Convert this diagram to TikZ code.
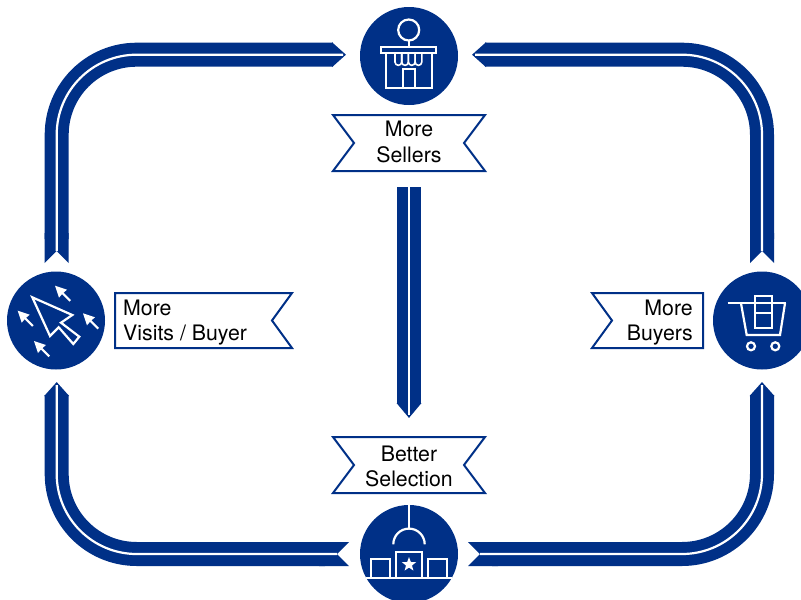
\documentclass[tikz,border=0pt]{standalone}
\usepackage{fontspec}
\setmainfont{TeX Gyre Heros}
\usetikzlibrary{arrows.meta,shapes.geometric}
\definecolor{navy}{HTML}{003087}
\tikzset{
	band/.style={draw=navy, line width=24pt, rounded corners=80pt},
	seam/.style={draw=white, line width=2.2pt, rounded corners=80pt},
	hub/.style={circle, fill=navy, minimum size=98pt, inner sep=0pt},
	flag/.style={draw=navy, line width=2pt, fill=white, line join=miter},
	icon/.style={draw=white, line width=2.2pt},
	caption/.style={font=\fontsize{21.3pt}{25.5pt}\selectfont, inner sep=0pt}
}
\begin{document}
\begin{tikzpicture}[x=1pt, y=-1pt]
			\newcommand{\trackArrow}[3]{
				% draws one curved arm of the ring
				% args:
				%     coordinate at the notched end
				%     corner coordinate
				%     coordinate at the tip
				\draw[band, {Triangle Cap[reversed, length=12pt]}-{Triangle[length=14pt, width=24pt]}] (#1) -- (#2) -- (#3);
				\draw[seam, shorten <=12pt, shorten >=3pt] (#1) -- (#2) -- (#3);
			}
			\newcommand{\leadPtr}[2]{
				% small white pointer around the cursor, args: tip x, tip y
				\fill[white] (#1, #2) -- ++(12, 4) -- ++(-3.5, 3) -- ++(7.5, 7.5) -- ++(-1.5, 1.5) -- ++(-7.5, -7.5) -- ++(-3, 3.5) -- cycle;
			}
			\clip (0, 0) rectangle (801, 600);
			%
			% hubs
			\node[hub] (store) at (409, 56) {};
			\node[hub] (cursor) at (56, 320.5) {};
			\node[hub] (cart) at (762, 320.5) {};
			\node[hub] (mall) at (409, 554) {};
			%
			% ends of the arms
			\coordinate (ltail) at (56.7, 263);
			\coordinate (lcorner) at (56.7, 54.7);
			\coordinate (ltip) at (346, 54.7);
			\coordinate (rtail) at (762, 263);
			\coordinate (rcorner) at (762, 54.7);
			\coordinate (rtip) at (472, 54.7);
			\coordinate (bltip) at (56.7, 382);
			\coordinate (blcorner) at (56.7, 554);
			\coordinate (bltail) at (349, 554);
			\coordinate (brtip) at (762, 382);
			\coordinate (brcorner) at (762, 554);
			\coordinate (brtail) at (468, 554);
			\coordinate (mtail) at (409, 187);
			\coordinate (mtip) at (409, 418);
			%
			% the ring
			\trackArrow{ltail}{lcorner}{ltip}
			\trackArrow{rtail}{rcorner}{rtip}
			\trackArrow{bltail}{blcorner}{bltip}
			\trackArrow{brtail}{brcorner}{brtip}
			% straight arm in the middle
			\draw[band, -{Triangle[length=15pt, width=24pt]}] (mtail) -- (mtip);
			\draw[seam, shorten >=3pt] (mtail) -- (mtip);
			%
			% flags
			\draw[flag] (333, 115) -- (485, 115) -- (464, 143) -- (485, 171) -- (333, 171) -- (354, 143) -- cycle;
			\draw[flag] (333, 437) -- (485, 437) -- (464, 465) -- (485, 493) -- (333, 493) -- (354, 465) -- cycle;
			\draw[flag] (115, 293) -- (292, 293) -- (272, 320.5) -- (292, 348) -- (115, 348) -- cycle;
			\draw[flag] (703, 293) -- (592, 293) -- (612, 320.5) -- (592, 348) -- (703, 348) -- cycle;
			\node[caption, align=center] (sellers) at (409, 142) {More\\Sellers};
			\node[caption, align=center] (selection) at (409, 466.5) {Better\\Selection};
			\node[caption, align=left, anchor=west] (visits) at (123, 322.5) {More\\Visits / Buyer};
			\node[caption, align=right, anchor=east] (buyers) at (693, 322.5) {More\\Buyers};
			%
			% store icon
			\draw[icon] (408.7, 30) circle[radius=10.5pt];
			\draw[icon] (408.7, 40.5) -- (408.7, 47);
			\draw[icon] (381, 47) rectangle (436, 52.7);
			\draw[icon] (385.7, 52.7) -- (385.7, 88.3) -- (431.7, 88.3) -- (431.7, 52.7);
			\draw[icon] (402.7, 88.3) -- (402.7, 69.3) -- (415, 69.3) -- (415, 88.3);
			\foreach \i in {0, 1, 2, 3} {
				\draw[icon, line width=1.6pt] (395 + \i*6.7, 52.7) -- (395 + \i*6.7, 62) arc[start angle=180, end angle=360, radius=3.35pt] -- (401.7 + \i*6.7, 52.7);
			}
			%
			% cursor icon
			\draw[icon, line join=miter] (32.3, 297.3) -- (72.3, 315) -- (61, 322.7) -- (79.3, 336.7) -- (73.3, 344) -- (58.7, 327.3) -- (50, 336) -- cycle;
			\leadPtr{55}{285.7}
			\leadPtr{17.7}{310.7}
			\leadPtr{83}{313.3}
			\leadPtr{34}{341}
			%
			% cart icon
			\draw[icon] (727.7, 303.3) -- (785.7, 303.3);
			\draw[icon] (741, 303.3) -- (746.7, 335) -- (780, 335) -- (785, 303.3);
			\draw[icon] (755, 295.7) rectangle (771.7, 328.3);
			\draw[icon] (755, 313.3) -- (771.7, 313.3);
			\draw[icon] (751, 346.3) circle[radius=4pt];
			\draw[icon] (775.3, 346.3) circle[radius=4pt];
			%
			% mall icon
			\draw[icon] (409, 505) -- (409, 529.3);
			\draw[icon] (393.3, 544.3) arc[start angle=180, end angle=0, radius=15.7pt];
			\draw[icon] (396, 576.7) -- (396, 551.7) -- (421.7, 551.7) -- (421.7, 576.7);
			\draw[icon] (371, 576.7) -- (371, 559.3) -- (390, 559.3) -- (390, 576.7);
			\draw[icon] (428.3, 576.7) -- (428.3, 559.3) -- (447.3, 559.3) -- (447.3, 576.7);
			\draw[icon] (366, 578) -- (452, 578);
			\node[star, star points=5, star point ratio=2.4, fill=white, minimum size=15pt, inner sep=0pt] (badge) at (409, 564.5) {};
		\end{tikzpicture}
\end{document}
